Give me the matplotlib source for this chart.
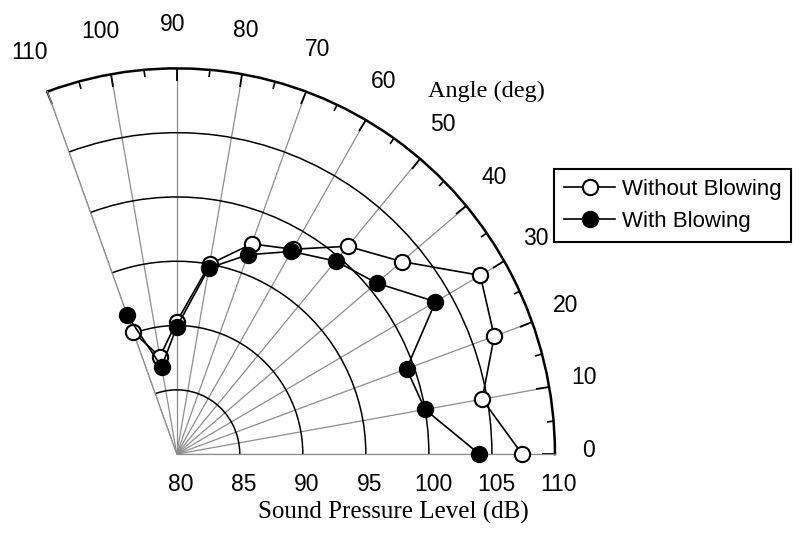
import numpy as np
import matplotlib
matplotlib.use('Agg')
import matplotlib.pyplot as plt
from matplotlib.transforms import offset_copy

plt.rcParams['font.family'] = ['Liberation Sans', 'DejaVu Sans']

# ---- data ----
angles_deg = [0, 10, 20, 30, 40, 50, 60, 70, 80, 90, 100, 110]
without_blowing = [107.4, 104.6, 106.8, 107.8, 103.3, 101.1, 98.4, 97.4, 95.0, 90.3, 87.7, 90.1]
with_blowing = [104.0, 100.0, 99.4, 103.7, 100.7, 99.6, 98.2, 96.5, 94.7, 89.9, 86.9, 91.5]
series_labels = ['Without Blowing', 'With Blowing']
angle_ticks = [0, 10, 20, 30, 40, 50, 60, 70, 80, 90, 100, 110]
angle_minor_ticks = [5, 15, 25, 35, 45, 55, 65, 75, 85, 95, 105]
spl_ticks = [80, 85, 90, 95, 100, 105, 110]
spl_label = 'Sound Pressure Level (dB)'
angle_label = 'Angle (deg)'

fig = plt.figure(figsize=(8.03, 5.33), dpi=100)
ax = fig.add_axes([0.0590, 0.0287, 0.6321, 0.9713], projection='polar')
ax.set_thetamin(0)
ax.set_thetamax(110)
ax.set_ylim(spl_ticks[0], spl_ticks[-1])
ax.set_aspect('auto')

th = np.deg2rad(angles_deg)
ax.plot(th, without_blowing, '-o', color='black', lw=1.2, ms=11,
        mfc='white', mec='black', mew=1.5, label=series_labels[0],
        clip_on=False, zorder=3)
ax.plot(th, with_blowing, '-o', color='black', lw=1.2, ms=11,
        mfc='black', mec='black', mew=1.5, label=series_labels[1],
        clip_on=False, zorder=4)

ax.set_xticks(np.deg2rad(angle_ticks))
ax.set_xticks(np.deg2rad(angle_minor_ticks), minor=True)
ax.set_xticklabels([])
ax.set_xticklabels([], minor=True)
ax.set_yticks(spl_ticks[1:-1])
ax.set_yticklabels([])
ax.tick_params(axis='x', which='both', bottom=False, top=True)
ax.tick_params(axis='x', which='major', direction='in', length=9.5, width=1.3, color='black')
ax.tick_params(axis='x', which='minor', direction='in', length=5, width=1.2, color='black')
ax.tick_params(axis='y', length=0)
ax.xaxis.grid(True, color='#8c8c8c', lw=0.9)
ax.yaxis.grid(True, color='black', lw=1.1)
ax.spines['polar'].set_linewidth(1.8)
ax.spines['polar'].set_color('black')
for s in ('start', 'end', 'inner'):
    ax.spines[s].set_color('#8c8c8c')
    ax.spines[s].set_linewidth(0.9)
    ax.spines[s].set_visible(False)

# angle labels around outer arc
for a in angle_ticks:
    r = 112.7 + 0.7 * np.sin(np.deg2rad(a))
    ax.text(np.deg2rad(a + 0.5), r, str(a), ha='center', va='center',
            fontsize=16.5, clip_on=False)

# radial labels under baseline
trans = offset_copy(ax.transData, fig=fig, x=4, y=-30, units='dots')
for v in spl_ticks:
    ax.text(0, v, str(v), transform=trans, ha='center', va='center',
            fontsize=16.5, clip_on=False)

fig.text(393 / 803, 1 - 512 / 533, spl_label, family='Liberation Serif',
         fontsize=18, ha='center', va='center')
fig.text(486 / 803, 1 - 91 / 533, angle_label, family='Liberation Serif',
         fontsize=17.5, ha='center', va='center')

leg = ax.legend(loc='upper left', bbox_to_anchor=(554 / 803, 1 - 169 / 533),
                bbox_transform=fig.transFigure, frameon=True, fancybox=False,
                edgecolor='black', framealpha=1, borderaxespad=0, fontsize=16,
                handlelength=2.3, handletextpad=0.3, labelspacing=0.5,
                borderpad=0.45)
leg.get_frame().set_linewidth(1.5)

fig.savefig('out.png', dpi=100)
